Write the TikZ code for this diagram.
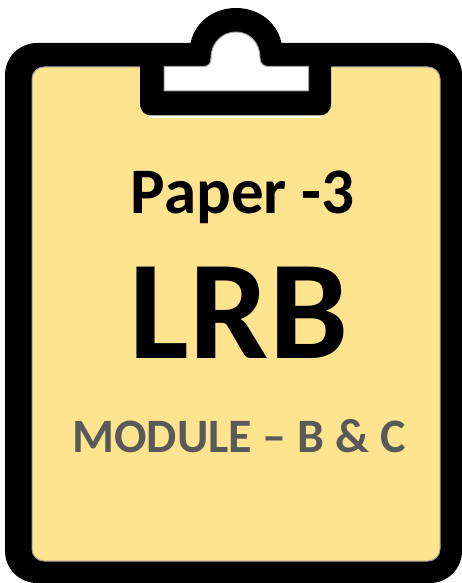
\documentclass[tikz,border=0pt]{standalone}
\usepackage{fontspec}
\setmainfont{Carlito}
\definecolor{paperfill}{HTML}{FFE48F}
\definecolor{modgray}{HTML}{595959}
\definecolor{edgegray}{HTML}{A0A0A0}
\tikzset{
  label text/.style={anchor=base, inner sep=0pt},
}
\begin{document}
\begin{tikzpicture}[x=1pt,y=-1pt]
\useasboundingbox (0,0) rectangle (462,583);
% outer board
\fill[black,rounded corners=32pt] (5,43) rectangle (462,583);
% arch
\fill[black] (190,46) .. controls (193,24) and (212,8) .. (236,8)
  .. controls (260,8) and (279,24) .. (282,46) -- cycle;
% paper
\fill[paperfill,draw=edgegray,line width=1pt,rounded corners=12pt] (32,67) rectangle (440,561);
% white sliver below clip
\fill[white] (150,112) rectangle (321,118.5);
% clip body
\fill[black,rounded corners=11pt] (140,50) rectangle (331,115.5);
% hole
\fill[white,draw=edgegray,line width=1pt] (164,66.5) -- (203,66.5)
  .. controls (208,66.5) and (211,64) .. (211,58)
  .. controls (211,42) and (223,32) .. (236,32)
  .. controls (249,32) and (260,42) .. (260,58)
  .. controls (260,64) and (264,66.5) .. (269,66.5)
  -- (308.5,66.5) -- (308.5,91) -- (164,91) -- cycle;
% texts
\node[label text,font=\bfseries\fontsize{65}{65}\selectfont] (paper) at (242.5,213.5) {Paper -3};
\node[label text,font=\bfseries\fontsize{141}{141}\selectfont] (lrb) at (239,358) {LRB};
\node[label text,font=\bfseries\fontsize{48}{48}\selectfont,text=modgray] (module) at (239,452) {MODULE – B \& C};
\end{tikzpicture}
\end{document}
